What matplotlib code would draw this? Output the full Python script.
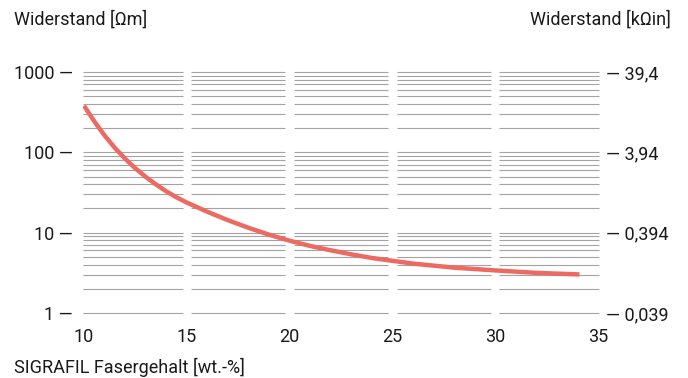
import matplotlib
matplotlib.use("Agg")
import matplotlib.pyplot as plt

plt.rcParams['font.family'] = ['Roboto', 'DejaVu Sans']

# Fibre content [wt.-%] and specific resistance [Ohm m]
fiber_content = [10, 10.5, 11, 11.5, 12, 12.5, 13, 13.5, 14, 14.5, 15, 16, 17, 18, 19,
                 20, 21, 22, 23, 24, 26, 28, 30, 32, 34.1]
resistance = [380, 243, 162, 113.5, 83.2, 63.1, 49.5, 39.8, 32.7, 27.5, 23.7, 18.2,
              14.3, 11.5, 9.44, 7.94, 6.84, 6.03, 5.37, 4.84, 4.12, 3.67, 3.39, 3.16, 3.02]

x_ticks = [10, 15, 20, 25, 30, 35]
left_ticks = [1, 10, 100, 1000]
left_labels = ["1 —", "10 —", "100 —", "1000 —"]
right_ticks = [0.0394, 0.394, 3.94, 39.4]
right_labels = ["— 0,039", "— 0,394", "— 3,94", "— 39,4"]

text_color = "#1a1a1a"
grid_color = "#a3a3a3"
line_color = "#ec6a62"
fs = 13

fig = plt.figure(figsize=(6.88, 3.78), dpi=100)
ax = fig.add_axes([83 / 688, 1 - 313 / 378, 516 / 688, 241 / 378])
ax.set_yscale("log")
ax.set_xlim(9.95, 35.05)
ax.set_ylim(1, 1000)

# Horizontal grid at every decade step, broken into one block per x interval
levels = [m * 10 ** e for e in range(0, 3) for m in range(1, 10)] + [1000]
gap = 0.2
for i in range(len(x_ticks) - 1):
    x0 = x_ticks[i] + (gap if i > 0 else -0.05)
    x1 = x_ticks[i + 1] - (gap if i < len(x_ticks) - 2 else -0.05)
    ax.hlines(levels, x0, x1, colors=grid_color, linewidth=0.8, zorder=1,
              clip_on=False)

ax.plot(fiber_content, resistance, color=line_color, linewidth=3.2,
        solid_capstyle="butt", solid_joinstyle="round", zorder=3)

for s in ax.spines.values():
    s.set_visible(False)
ax.set_xticks(x_ticks)
ax.set_xticklabels([str(v) for v in x_ticks])
ax.set_yticks(left_ticks)
ax.set_yticklabels(left_labels)
ax.minorticks_off()
ax.tick_params(axis="x", length=0, pad=11, labelsize=fs, labelcolor=text_color)
ax.tick_params(axis="y", length=0, pad=7.5, labelsize=fs, labelcolor=text_color)

ax2 = ax.twinx()
ax2.set_yscale("log")
ax2.set_ylim(0.0394, 39.4)
ax2.set_yticks(right_ticks)
ax2.set_yticklabels(right_labels)
ax2.minorticks_off()
for s in ax2.spines.values():
    s.set_visible(False)
ax2.tick_params(axis="y", length=0, pad=5, labelsize=fs, labelcolor=text_color)

fig.text(14 / 688, 1 - 20 / 378, "Widerstand [Ωm]", fontsize=fs, color=text_color,
         ha="left", va="center")
fig.text(671 / 688, 1 - 20 / 378, "Widerstand [kΩin]", fontsize=fs, color=text_color,
         ha="right", va="center")
fig.text(14 / 688, 1 - 367 / 378, "SIGRAFIL Fasergehalt [wt.-%]", fontsize=fs,
         color=text_color, ha="left", va="center")

fig.savefig("out.png", dpi=100)
